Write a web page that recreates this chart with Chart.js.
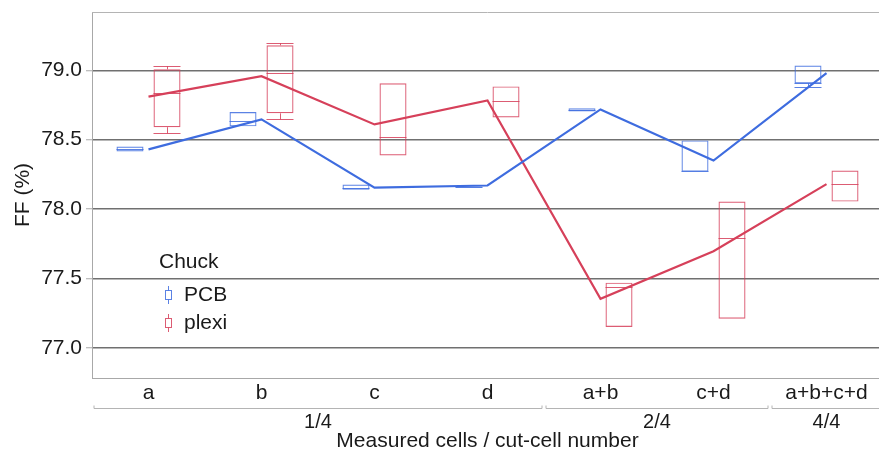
<!DOCTYPE html>
<html>
<head>
<meta charset="utf-8">
<script src="https://cdn.jsdelivr.net/npm/chart.js@4"></script>
<style>
  html, body { margin: 0; padding: 0; background: #fff; overflow: hidden; }
  #wrap { width: 884px; height: 457px; }
</style>
</head>
<body>
<div id="wrap"><canvas id="ffChart"></canvas></div>
<script>
// categories and grouping
const cells = ['a', 'b', 'c', 'd', 'a+b', 'c+d', 'a+b+c+d'];
const groupLabels = ['1/4', '2/4', '4/4'];
const groupSizes = [4, 2, 1];
const yTicks = [77.0, 77.5, 78.0, 78.5, 79.0];

// PCB chuck
const pcbMean   = [78.43, 78.646, 78.155, 78.17, 78.718, 78.35, 78.98];
const pcbMin    = [78.415, 78.596, 78.14, 78.155, 78.704, 78.27, 78.877];
const pcbQ1     = [78.415, 78.596, 78.14, 78.155, 78.704, 78.27, 78.905];
const pcbMedian = [78.43, 78.632, 78.155, 78.16, 78.715, 78.278, 78.905];
const pcbQ3     = [78.451, 78.70, 78.177, 78.163, 78.726, 78.495, 79.035];
const pcbMax    = [78.451, 78.70, 78.177, 78.163, 78.726, 78.495, 79.035];

// plexi chuck
const plexiMean   = [78.81, 78.957, 78.61, 78.783, 77.354, 77.697, 78.18];
const plexiMin    = [78.545, 78.646, 78.386, 78.66, 77.15, 77.21, 78.054];
const plexiQ1     = [78.59, 78.69, 78.386, 78.66, 77.15, 77.21, 78.054];
const plexiMedian = [78.834, 78.978, 78.52, 78.776, 77.44, 77.79, 78.184];
const plexiQ3     = [79.007, 79.18, 78.906, 78.884, 77.47, 78.054, 78.278];
const plexiMax    = [79.03, 79.195, 78.906, 78.884, 77.47, 78.054, 78.278];

const blue = '#3e6cdf';
const blueBox = 'rgba(62, 108, 223, 0.85)';
const red = '#d6405a';
const redBox = 'rgba(214, 64, 90, 0.85)';
const FONT = 'Liberation Sans, Arial, sans-serif';

const boxStats = {
  2: { min: pcbMin, q1: pcbQ1, med: pcbMedian, q3: pcbQ3, max: pcbMax, color: blueBox },
  3: { min: plexiMin, q1: plexiQ1, med: plexiMedian, q3: plexiQ3, max: plexiMax, color: redBox }
};

const boxExtras = {
  id: 'boxExtras',
  afterDatasetDraw(chart, args) {
    const st = boxStats[args.index];
    if (!st) return;
    const ctx = chart.ctx;
    const y = chart.scales.y;
    ctx.save();
    ctx.strokeStyle = st.color;
    ctx.lineWidth = 1;
    args.meta.data.forEach((el, i) => {
      const l = el.x - el.width / 2, r = el.x + el.width / 2;
      const hline = v => {
        const py = Math.round(y.getPixelForValue(v)) + 0.5;
        ctx.beginPath(); ctx.moveTo(l, py); ctx.lineTo(r, py); ctx.stroke();
      };
      const vline = (a, b) => {
        const px = Math.round(el.x) + 0.5;
        ctx.beginPath();
        ctx.moveTo(px, y.getPixelForValue(a));
        ctx.lineTo(px, y.getPixelForValue(b));
        ctx.stroke();
      };
      hline(st.med[i]);
      if (st.max[i] > st.q3[i]) { vline(st.q3[i], st.max[i]); hline(st.max[i]); }
      if (st.min[i] < st.q1[i]) { vline(st.q1[i], st.min[i]); hline(st.min[i]); }
    });
    ctx.restore();
  }
};

const decorations = {
  id: 'decorations',
  afterDraw(chart) {
    const ctx = chart.ctx;
    const area = chart.chartArea;
    const xs = chart.scales.x;
    const step = xs.width / cells.length;
    ctx.save();

    // top frame line
    ctx.strokeStyle = '#b4b4b4';
    ctx.lineWidth = 1;
    ctx.beginPath();
    ctx.moveTo(area.left, area.top + 0.5);
    ctx.lineTo(area.right, area.top + 0.5);
    ctx.stroke();

    // group brackets under the category labels
    ctx.fillStyle = '#1a1a1a';
    ctx.font = '20px ' + FONT;
    ctx.textAlign = 'center';
    ctx.textBaseline = 'middle';
    let start = 0;
    groupLabels.forEach((g, k) => {
      const x0 = xs.left + start * step + 2;
      const x1 = xs.left + (start + groupSizes[k]) * step - 2;
      const by = 408.5;
      ctx.strokeStyle = '#b4b4b4';
      ctx.beginPath();
      ctx.moveTo(x0, by - 3); ctx.lineTo(x0, by); ctx.lineTo(x1, by); ctx.lineTo(x1, by - 3);
      ctx.stroke();
      ctx.fillText(g, (x0 + x1) / 2, 422);
      start += groupSizes[k];
    });

    // x axis title
    ctx.font = '21px ' + FONT;
    ctx.fillText('Measured cells / cut-cell number', (area.left + area.right) / 2, 441);

    // legend
    ctx.textAlign = 'left';
    ctx.textBaseline = 'alphabetic';
    ctx.fillText('Chuck', 159, 268);
    const items = [['PCB', blueBox, 295], ['plexi', redBox, 323]];
    items.forEach(([label, col, cy]) => {
      ctx.strokeStyle = col;
      ctx.beginPath();
      ctx.moveTo(168.5, cy - 9); ctx.lineTo(168.5, cy + 9);
      ctx.stroke();
      ctx.fillStyle = '#fff';
      ctx.fillRect(165.5, cy - 4.5, 6, 9);
      ctx.strokeRect(165.5, cy - 4.5, 6, 9);
      ctx.fillStyle = '#1a1a1a';
      ctx.textBaseline = 'middle';
      ctx.fillText(label, 184, cy);
    });
    ctx.restore();
  }
};

const ctxFF = document.getElementById('ffChart').getContext('2d');
const ffChart = new Chart(ctxFF, {
  data: {
    labels: cells,
    datasets: [
      {
        type: 'line', label: 'PCB mean', data: pcbMean,
        borderColor: blue, borderWidth: 2.2, pointRadius: 0, tension: 0
      },
      {
        type: 'line', label: 'plexi mean', data: plexiMean,
        borderColor: red, borderWidth: 2.2, pointRadius: 0, tension: 0
      },
      {
        type: 'bar', label: 'PCB', data: pcbQ1.map((v, i) => [v, pcbQ3[i]]),
        backgroundColor: 'rgba(0,0,0,0)', borderColor: blueBox, borderWidth: 1.2,
        borderSkipped: false, categoryPercentage: 0.655, barPercentage: 0.73
      },
      {
        type: 'bar', label: 'plexi', data: plexiQ1.map((v, i) => [v, plexiQ3[i]]),
        backgroundColor: 'rgba(0,0,0,0)', borderColor: redBox, borderWidth: 1.2,
        borderSkipped: false, categoryPercentage: 0.655, barPercentage: 0.73
      }
    ]
  },
  options: {
    responsive: true,
    maintainAspectRatio: false,
    animation: false,
    layout: { padding: { top: 12, right: 1, left: 0, bottom: 0 } },
    scales: {
      x: {
        afterFit: s => { s.height = 79; s.paddingLeft = 0; s.paddingRight = 0; },
        grid: { display: false, drawTicks: false },
        border: { display: true, color: '#a8a8a8', width: 1 },
        ticks: { font: { size: 21, family: FONT }, color: '#1a1a1a', padding: 3, autoSkip: false, maxRotation: 0 }
      },
      y: {
        min: 76.783,
        max: 79.42,
        afterFit: s => { s.width = 92; s.paddingTop = 0; s.paddingBottom = 0; },
        afterBuildTicks: s => { s.ticks = yTicks.map(v => ({ value: v })); },
        grid: { color: '#707070', lineWidth: 1.5, tickColor: '#a8a8a8', tickLength: 6, tickWidth: 1 },
        border: { display: true, color: '#a8a8a8', width: 1 },
        ticks: {
          font: { size: 21, family: FONT }, color: '#1a1a1a', padding: 4,
          callback: v => v.toFixed(1)
        },
        title: { display: true, text: 'FF (%)', font: { size: 21, family: FONT }, color: '#1a1a1a', padding: { top: 11 } }
      }
    },
    plugins: { legend: { display: false }, tooltip: { enabled: false } }
  },
  plugins: [boxExtras, decorations]
});
</script>
</body>
</html>
